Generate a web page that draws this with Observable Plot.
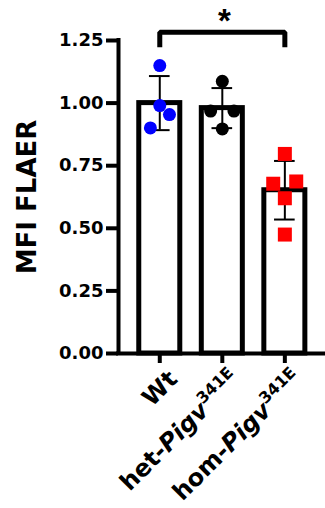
<!DOCTYPE html>
<html>
<head>
<meta charset="utf-8">
<script src="https://cdn.jsdelivr.net/npm/d3@7"></script>
<script src="https://cdn.jsdelivr.net/npm/@observablehq/plot@0.6"></script>
<style>
  html, body { margin: 0; padding: 0; background: white; }
</style>
</head>
<body>
<div id="chart"></div>
<script>
// ---- data ----
const groups = ["Wt", "het-Pigv341E", "hom-Pigv341E"];
const means = [1.000, 0.980, 0.652];
const sds = [0.108, 0.080, 0.117];

const wtValues  = [1.150, 0.990, 0.954, 0.901];
const wtJitter  = [0, 0, 0.155, -0.150];
const hetValues = [1.087, 0.968, 0.968, 0.897];
const hetJitter = [0, -0.187, 0.186, 0];
const homValues = [0.797, 0.678, 0.687, 0.620, 0.475];
const homJitter = [0, -0.186, 0.182, 0, 0];

const yTicks = [0, 0.25, 0.5, 0.75, 1.0, 1.25];
const yLabel = "MFI FLAER";

const sigFrom = 0, sigTo = 2, sigLevel = 1.283, sigLabel = "*";

// ---- derived tables ----
const bars = groups.map((g, i) => ({i, g, mean: means[i], sd: sds[i]}));
const pts = (vals, jit, i) => vals.map((v, k) => ({i, v, j: jit[k]}));
const wtPts = pts(wtValues, wtJitter, 0);
const hetPts = pts(hetValues, hetJitter, 1);
const homPts = pts(homValues, homJitter, 2);
const bracket = [
  {x: sigFrom, y: sigLevel - 0.06},
  {x: sigFrom, y: sigLevel},
  {x: sigTo, y: sigLevel},
  {x: sigTo, y: sigLevel - 0.06}
];

const xDomain = [-0.66, 2.65];
const barHalf = 0.328;
const capHalf = 0.165;
const font = "'DejaVu Sans', 'Liberation Sans', sans-serif";
const font2 = "'Liberation Sans', Arial, sans-serif";

const plot = Plot.plot({
  width: 325,
  height: 508,
  marginLeft: 118,
  marginRight: 0,
  marginTop: 40,
  marginBottom: 155,
  style: {fontFamily: font, fontWeight: "bold", fontSize: "18px", color: "black", background: "white", overflow: "visible"},
  x: {type: "linear", domain: xDomain, axis: null},
  y: {domain: [0, 1.25], axis: null},
  marks: [
    Plot.rectY(bars, {x1: d => d.i - barHalf, x2: d => d.i + barHalf, y1: 0, y2: "mean",
      fill: "white", stroke: "black", strokeWidth: 5}),
    Plot.ruleX(bars, {x: "i", y1: d => d.mean - d.sd, y2: d => d.mean + d.sd, stroke: "black", strokeWidth: 2}),
    Plot.ruleY(bars, {x1: d => d.i - capHalf, x2: d => d.i + capHalf, y: d => d.mean + d.sd, stroke: "black", strokeWidth: 2}),
    Plot.ruleY(bars, {x1: d => d.i - capHalf, x2: d => d.i + capHalf, y: d => d.mean - d.sd, stroke: "black", strokeWidth: 2}),
    Plot.dot(wtPts, {x: d => d.i + d.j, y: "v", r: 6.5, fill: "#0000ff", stroke: null}),
    Plot.dot(hetPts, {x: d => d.i + d.j, y: "v", r: 6.5, fill: "black", stroke: null}),
    Plot.dot(homPts, {x: d => d.i + d.j, y: "v", r: 7.9, symbol: "square", fill: "#ff0000", stroke: null}),
    // axes
    Plot.ruleY([0], {stroke: "black", strokeWidth: 4, strokeLinecap: "square"}),
    Plot.ruleX([xDomain[0]], {y1: 0, y2: 1.25, stroke: "black", strokeWidth: 4, strokeLinecap: "square"}),
    Plot.axisY({ticks: yTicks, tickFormat: d3.format(".2f"), tickSize: 12, tickPadding: 3,
      strokeWidth: 4, label: null, fontSize: 18, fontWeight: "bold", fontFamily: font}),
    Plot.axisX({ticks: [0, 1, 2], tickSize: 10, strokeWidth: 4, tickFormat: () => "", label: null}),
    Plot.text(bars, {x: "i", y: () => 0, text: "g", rotate: -45, textAnchor: "end", lineAnchor: "top",
      dx: 7, dy: 15, fontSize: 24, fontWeight: "bold", fontFamily: font, fill: "black"}),
    Plot.text([yLabel], {frameAnchor: "left", text: d => d, rotate: -90, textAnchor: "middle",
      lineAnchor: "bottom", dx: -83, fontSize: 26, fontWeight: "bold", fontFamily: font, fill: "black"}),
    // significance bracket
    Plot.line(bracket, {x: "x", y: "y", stroke: "black", strokeWidth: 5, strokeLinejoin: "miter", strokeLinecap: "butt"}),
    Plot.text([sigLabel], {x: (sigFrom + sigTo) / 2, y: sigLevel, text: d => d, lineAnchor: "bottom",
      dx: 2, dy: 0, fontSize: 33, fontWeight: "bold", fontFamily: font2, fill: "black"})
  ]
});

// rich formatting for the genotype labels: italic gene name, superscript allele
d3.select(plot).selectAll("text").each(function() {
  const t = this.textContent;
  const m = t.match(/^(.*-)(Pigv)(341E)$/);
  if (!m) return;
  const sel = d3.select(this);
  sel.text(null);
  sel.append("tspan").text(m[1]);
  sel.append("tspan").attr("font-style", "italic").text(m[2]);
  sel.append("tspan").attr("font-size", "16px").attr("dy", "-10").text(m[3]);
});

document.getElementById("chart").appendChild(plot);
</script>
</body>
</html>
